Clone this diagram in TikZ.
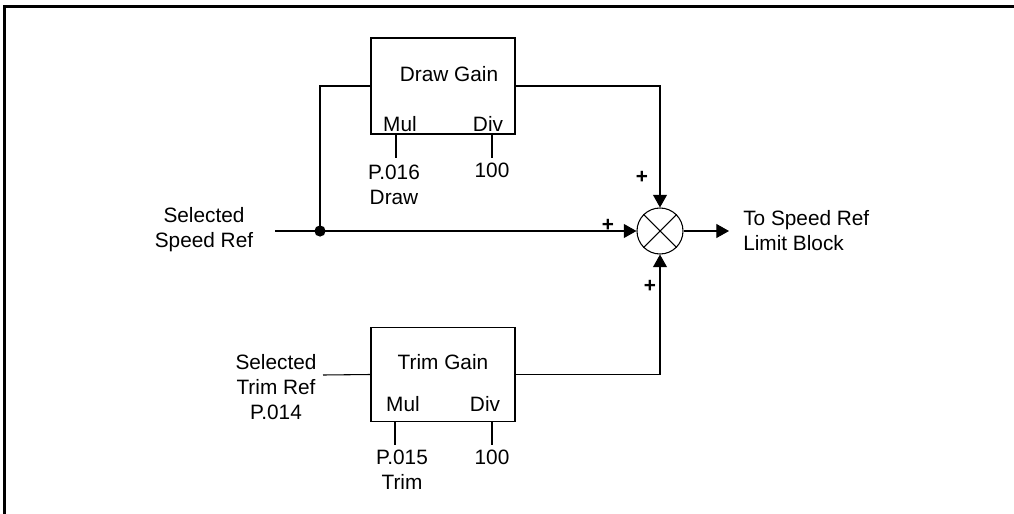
\documentclass[tikz,border=0pt]{standalone}
\usepackage{fontspec}
\setmainfont{Liberation Sans}
\usetikzlibrary{arrows.meta}
\begin{document}
\begin{tikzpicture}[x=0.75pt,y=-0.75pt,
  every node/.style={font=\fontsize{15.6pt}{18.8pt}\selectfont, inner sep=0pt},
  wire/.style={line width=0.8pt},
  thickwire/.style={line width=1.5pt},
  arr/.style={wire,-{Triangle[length=9.5pt,width=10.5pt]}},
  gainbox/.style={draw,line width=0.8pt,minimum width=108pt,minimum height=72pt},
  lbl/.style={align=center},
  plus/.style={font=\fontsize{15.6pt}{18.8pt}\selectfont\bfseries},
  frameline/.style={line width=2.3pt}]
\useasboundingbox (0,0) rectangle (1014,514);
% frame
\draw[frameline] (4.5,514) -- (4.5,6.5) -- (1014,6.5);

% blocks
\node[gainbox] (draw) at (443,86) {};
\node[gainbox,minimum height=71pt] (trim) at (443,374.5) {};
\node (drawt) at (449,74) {Draw Gain};
\node (trimt) at (443,362) {Trim Gain};
\node (dmul) at (400,124) {Mul};
\node (ddiv) at (488,124) {Div};
\node (tmul) at (403,404) {Mul};
\node (tdiv) at (485,404) {Div};

% summing junction
\node[draw,circle,line width=0.8pt,minimum size=34.5pt] (sum) at (660,231) {};
\draw[wire] (sum.45) -- (sum.225);
\draw[wire] (sum.135) -- (sum.315);

% labels
\node[lbl] (spd) at (204,229.5) {Selected\\Speed Ref};
\node[lbl] (trimin) at (276,387) {Selected\\Trim Ref\\P.014};
\node[align=left,anchor=west] (out) at (743,231) {To Speed Ref\\Limit Block};
\node[lbl] (p016) at (394,185) {P.016\\Draw};
\node (d100) at (492,170) {100};
\node[lbl] (p015) at (402,469.5) {P.015\\Trim};
\node (t100) at (492,457) {100};
\node[plus] (plus1) at (642,177) {+};
\node[plus] (plus2) at (608,225) {+};
\node[plus] (plus3) at (650,286) {+};

% coordinates
\coordinate (spdin) at (275,231);
\coordinate (J) at (320,231);
\coordinate (outend) at (729,231);
\coordinate (trimsrc) at (323,375);
\coordinate (dms) at (396,134);
\coordinate (dds) at (492,134);
\coordinate (tms) at (395,422);
\coordinate (tds) at (492,422);

% connectors
\draw[arr] (spdin) -- (J) -- (sum.west);
\draw[wire] (J) |- (draw.west);
\fill (J) circle (4.2pt);
\draw[arr] (draw.east) -| (sum.north);
\draw[wire] (trimsrc) -- (trim.west);
\draw[arr] (trim.east) -| (sum.south);
\draw[arr] (sum.east) -- (outend);
\draw[wire] (dms) -- ++(0,24);
\draw[wire] (dds) -- ++(0,24);
\draw[thickwire] (tms) -- ++(0,23);
\draw[thickwire] (tds) -- ++(0,23);
\end{tikzpicture}
\end{document}
